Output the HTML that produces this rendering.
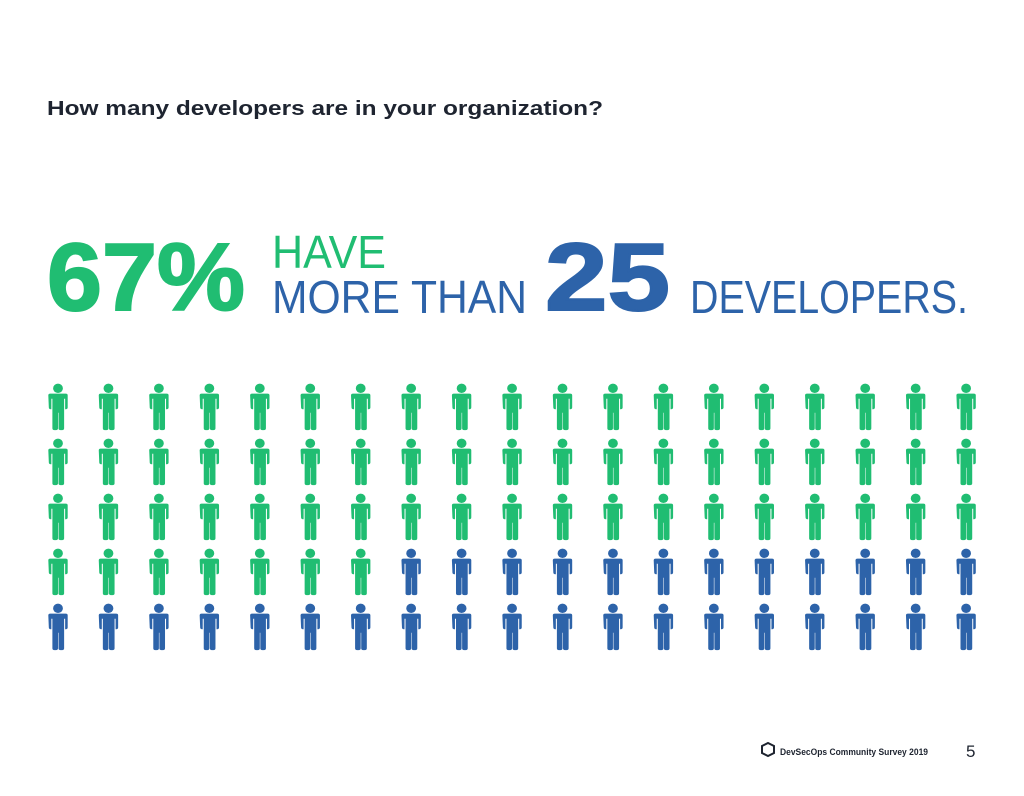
<!DOCTYPE html>
<html><head><meta charset="utf-8"><style>
body{margin:0;width:1024px;height:791px;background:#fff;overflow:hidden;font-family:"Liberation Sans",sans-serif}
</style></head><body>
<svg width="1024" height="791" viewBox="0 0 1024 791">
<text x="47" y="115" font-size="20" font-weight="bold" fill="#1e2430" textLength="556" lengthAdjust="spacingAndGlyphs">How many developers are in your organization?</text>
<text x="47" y="310" font-size="96" font-weight="bold" fill="#20bd72" stroke="#20bd72" stroke-width="2" textLength="198" lengthAdjust="spacingAndGlyphs">67%</text>
<text x="272" y="268" font-size="46" fill="#20bd72" textLength="114" lengthAdjust="spacingAndGlyphs">HAVE</text>
<text x="272" y="313" font-size="46" fill="#2d63a9" textLength="255" lengthAdjust="spacingAndGlyphs">MORE THAN</text>
<text x="545" y="310" font-size="96" font-weight="bold" fill="#2d63a9" stroke="#2d63a9" stroke-width="2" textLength="125" lengthAdjust="spacingAndGlyphs">25</text>
<text x="690" y="313" font-size="46" fill="#2d63a9" textLength="278" lengthAdjust="spacingAndGlyphs">DEVELOPERS.</text>
<g id="grid"></g>
<polygon points="762,746 768,743 774,746 774,753 768,756 762,753" fill="none" stroke="#1e2430" stroke-width="2"/>
<text x="780" y="755" font-size="9.5" font-weight="bold" fill="#1e2430" textLength="148" lengthAdjust="spacingAndGlyphs">DevSecOps Community Survey 2019</text>
<text x="966" y="757" font-size="17" fill="#1e2430">5</text>
</svg>
<script>
const totalPeople = 95;
const greenCount = 64;
const columns = 19;
const g = document.getElementById('grid');
const NS = 'http://www.w3.org/2000/svg';
for (let i = 0; i < totalPeople; i++) {
  const c = i % columns, r = Math.floor(i / columns);
  const x = 58 + c * 50.45, y = 384 + r * 55;
  const col = i < greenCount ? '#20bd72' : '#2d63a9';
  const p = document.createElementNS(NS, 'g');
  
  
  p.setAttribute('fill', col);
  p.setAttribute('transform', `translate(${x},${y}) scale(1.02,0.87)`);
  p.innerHTML = `<ellipse cx="0" cy="5" rx="4.8" ry="5.4"/>` +
    `<path d="M-9.5,13 q0,-2 2,-2 h15 q2,0 2,2 v14 q0,2 -2,2 h-0.5 v-12 h-1 v34 q0,2 -2,2 h-1.5 q-2,0 -2,-2 v-18 h-0.5 v18 q0,2 -2,2 h-1.5 q-2,0 -2,-2 v-34 h-1 v12 h-0.5 q-2,0 -2,-2 z"/>`;
  g.appendChild(p);
}
</script>
</body></html>
